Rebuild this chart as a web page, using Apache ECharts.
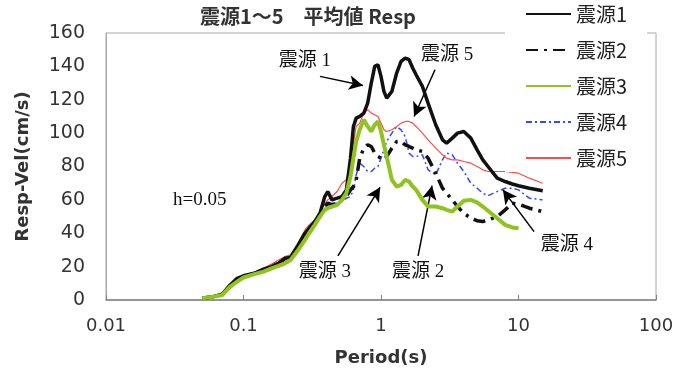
<!DOCTYPE html>
<html>
<head>
<meta charset="utf-8">
<script src="https://cdn.jsdelivr.net/npm/echarts@6/dist/echarts.min.js"></script>
<style>
  body { margin: 0; background: #fff; }
  #main { width: 692px; height: 378px; }
</style>
</head>
<body>
<div id="main"></div>
<script>
var dom = document.getElementById('main');
var myChart = echarts.init(dom);

// 周期 (s)
var periods = [0.05, 0.06, 0.07, 0.08, 0.09, 0.1, 0.12, 0.14, 0.16, 0.18, 0.2, 0.22, 0.25, 0.28, 0.3, 0.33, 0.36, 0.39, 0.41, 0.44,
    0.48, 0.52, 0.56, 0.6, 0.63, 0.66, 0.7, 0.75, 0.8, 0.85, 0.9, 0.95, 1.0, 1.05, 1.1, 1.2, 1.3, 1.4, 1.5, 1.6,
    1.7, 1.8, 2.0, 2.2, 2.5, 2.8, 3.0, 3.3, 3.6, 4.0, 4.5, 5.0, 5.5, 6.0, 7.0, 8.0, 9.0, 10, 12, 15];

// 応答速度 (cm/s)
var src1 = [1, 2, 3.5, 9, 13, 14.5, 16, 18.5, 20, 22, 25, 25.5, 33, 40, 43, 47, 52, 62, 65, 60,
    61, 62, 66, 85, 104, 109, 110, 112, 118, 130, 140, 141, 134, 125, 121, 125, 136, 143, 145, 144,
    139, 135, 128, 118, 105, 96, 94, 97, 100, 101, 97, 90, 84, 80, 73, 71, 69.5, 68.5, 67, 65.5];
var src2 = [1, 2, 3.5, 8.5, 12, 14, 16, 18, 20, 22, 24.5, 25, 32, 38, 42, 46, 50, 56, 58, 57,
    58, 60, 62, 66, 68, 72, 85, 91, 93, 92, 88, 86, 85, 84, 86, 91, 95, 95, 93, 92,
    91, 90, 89, 85, 76, 67, 64, 60, 56, 52, 49, 47.5, 47, 48, 50, 54, 58, 57.5, 55, 53];
var src3 = [1, 2, 3, 8, 11, 13.5, 15.5, 17, 19, 20.5, 22, 24, 30, 36, 40, 45, 50, 54, 55, 56,
    57, 60, 64, 74, 85, 95, 102, 108, 104, 101, 105, 107, 101, 93, 86, 72, 68, 69, 72, 71,
    68, 66, 60, 56, 56, 55, 54, 53, 56, 59.5, 60, 58.5, 56, 53.5, 49, 45, 43.5, 43, null, null];
var src4 = [1, 2, 3.5, 7, 11, 13.5, 15.5, 17.5, 19.5, 21.5, 24, 25, 31, 38, 41, 45, 50, 55, 57, 58,
    58, 59, 61, 62, 66, 75, 82, 80, 77, 77, 79, 80, 85, 90, 95, 100, 104, 102, 98, 88,
    86, 86, 87, 78, 75, 84, 88, 87, 82, 77, 70, 67, 64, 62.5, 65, 67, 67, 66, 61, 60];
var src5 = [1, 2, 4, 9, 12.5, 14, 16.5, 19, 21.5, 24, 26, 27, 34, 42, 45, 48, 53, 58, 60, 62,
    65, 70, 72, 82, 94, 104, 106, 112, 114, 112, 111, 110, 106, 102, 101, 102, 104, 106, 107, 107,
    106, 104, 100, 96, 91, 87, 85, 84, 84, 83, 82, 80, 78, 77, 77, 77, 76.5, 76, 73, 70];

var seriesNames = ['震源1', '震源2', '震源3', '震源4', '震源5'];
var xTicks = [0.01, 0.1, 1, 10, 100];
var yTicks = [0, 20, 40, 60, 80, 100, 120, 140, 160];

// 注記 (周期, 値)
var noteTexts = [
    { text: '震源 1', at: [0.28, 143] },
    { text: '震源 5', at: [3.02, 147] },
    { text: '震源 3', at: [0.39, 17] },
    { text: '震源 2', at: [1.86, 17] },
    { text: '震源 4', at: [22.5, 33] },
    { text: 'h=0.05', at: [0.048, 60] }
];
var noteArrows = [
    [[0.36, 134], [0.74, 128.5]],
    [[2.47, 138], [1.74, 110]],
    [[0.486, 26.5], [0.985, 67.5]],
    [[1.86, 26.5], [2.35, 68.5]],
    [[12.97, 41], [7.7, 66]]
];

function pairs(vals) {
    return periods.map(function (p, i) { return [p, vals[i]]; });
}

var labelFont = 'DejaVu Sans';

option = {
    animation: false,
    backgroundColor: '#fff',
    title: {
        text: '震源1～5　平均値 Resp',
        left: 200,
        top: 6,
        padding: 0,
        textStyle: {
            color: '#333',
            fontSize: 20,
            fontWeight: 'bold',
            fontFamily: 'Noto Sans CJK JP'
        }
    },
    legend: {
        data: seriesNames,
        orient: 'vertical',
        left: 505,
        top: 2,
        padding: [2, 20, 4, 20],
        backgroundColor: '#fff',
        itemWidth: 45,
        itemHeight: 14,
        itemGap: 16,
        itemStyle: { opacity: 0 },
        textStyle: {
            color: '#222',
            fontSize: 20,
            lineHeight: 20,
            fontFamily: 'Noto Sans CJK JP'
        },
        z: 10
    },
    grid: {
        left: 106,
        right: 36,
        top: 33,
        bottom: 78,
        show: true,
        borderColor: '#a8a8a8',
        borderWidth: 1
    },
    xAxis: {
        type: 'log',
        logBase: 10,
        min: xTicks[0],
        max: xTicks[xTicks.length - 1],
        name: 'Period(s)',
        nameLocation: 'middle',
        nameGap: 49,
        nameTextStyle: { color: '#333', fontSize: 18, fontWeight: 'bold', fontFamily: labelFont },
        axisLine: { show: true, lineStyle: { color: '#808080', width: 1.5 } },
        axisTick: { show: true, inside: true, length: 5, lineStyle: { color: '#808080' } },
        axisLabel: {
            color: '#333', fontSize: 18, margin: 17, fontFamily: labelFont,
            formatter: function (v) { return String(+v.toPrecision(3)); }
        },
        splitLine: { show: false }
    },
    yAxis: {
        type: 'value',
        min: yTicks[0],
        max: yTicks[yTicks.length - 1],
        interval: 20,
        name: 'Resp-Vel(cm/s)',
        nameLocation: 'middle',
        nameGap: 74,
        nameTextStyle: { color: '#333', fontSize: 18, fontWeight: 'bold', fontFamily: labelFont },
        axisLine: { show: true, lineStyle: { color: '#a8a8a8' } },
        axisTick: { show: false },
        axisLabel: { color: '#333', fontSize: 19, margin: 21, fontFamily: labelFont },
        splitLine: { show: false }
    },
    series: [
        {
            name: seriesNames[3], type: 'line', data: pairs(src4), symbol: 'none', z: 2,
            lineStyle: { color: '#3347ff', width: 1.5, type: [6, 3, 2, 3] },
            itemStyle: { color: '#3347ff' }
        },
        {
            name: seriesNames[4], type: 'line', data: pairs(src5), symbol: 'none', z: 3,
            lineStyle: { color: '#ff4a4a', width: 1.2 },
            itemStyle: { color: '#ff4a4a' }
        },
        {
            name: seriesNames[1], type: 'line', data: pairs(src2), symbol: 'none', z: 4,
            lineStyle: { color: '#111', width: 3.5, type: [12, 6, 3, 6] },
            itemStyle: { color: '#111' }
        },
        {
            name: seriesNames[0], type: 'line', data: pairs(src1), symbol: 'none', z: 5,
            lineStyle: { color: '#111', width: 3.5 },
            itemStyle: { color: '#111' },
            markLine: {
                silent: true,
                symbol: ['none', 'arrow'],
                symbolSize: [11, 14],
                label: { show: false },
                lineStyle: { color: '#000', width: 1.5, type: 'solid' },
                data: noteArrows.map(function (a) {
                    return [{ coord: a[0] }, { coord: a[1] }];
                })
            },
            markPoint: {
                silent: true,
                symbol: 'rect',
                symbolSize: 1,
                itemStyle: { color: 'rgba(0,0,0,0)' },
                label: {
                    show: true,
                    position: 'inside',
                    color: '#111',
                    fontSize: 19,
                    fontFamily: 'Liberation Serif, Noto Sans CJK JP',
                    formatter: function (p) { return p.name; }
                },
                data: noteTexts.map(function (n) {
                    return { name: n.text, coord: n.at };
                })
            }
        },
        {
            name: seriesNames[2], type: 'line', data: pairs(src3), symbol: 'none', z: 6,
            lineStyle: { color: '#8fc31f', width: 4 },
            itemStyle: { color: '#8fc31f' }
        }
    ]
};
myChart.setOption(option);
</script>
</body>
</html>
